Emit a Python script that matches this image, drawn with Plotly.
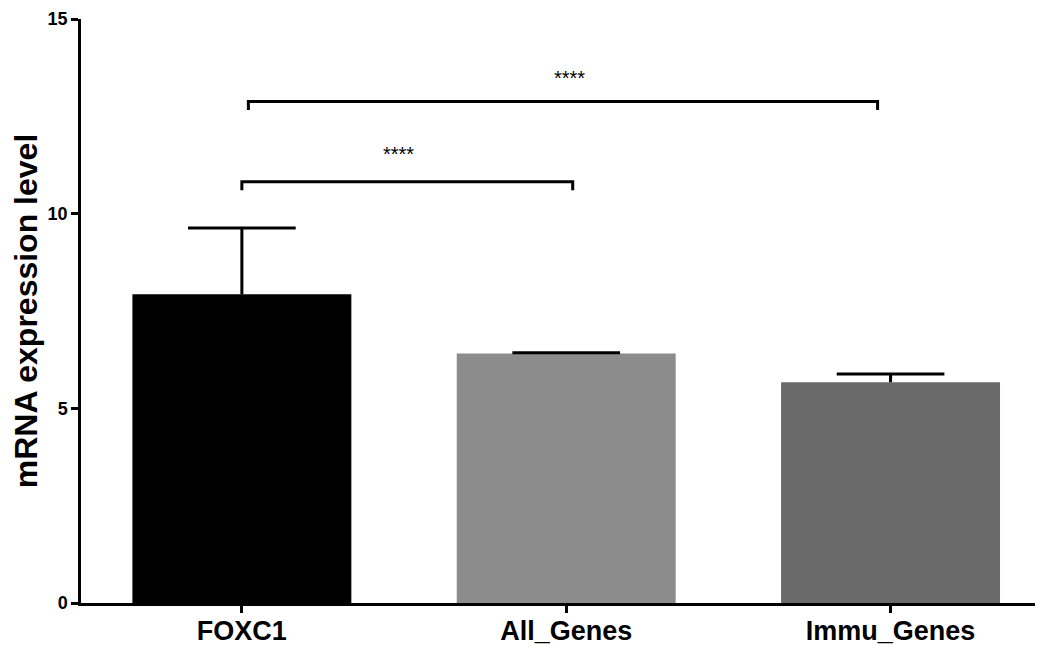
import plotly.graph_objects as go

categories = ["FOXC1", "All_Genes", "Immu_Genes"]
means = [7.93, 6.41, 5.67]
sem = [1.70, 0.02, 0.21]
bar_colors = ["#000000", "#8c8c8c", "#6a6a6a"]

# significance comparisons: (from index, to index, bracket height, label)
cmp_from = [0, 0]
cmp_to = [1, 2]
cmp_height = [10.82, 12.88]
cmp_label = ["****", "****"]
label_x = [0.482, 1.011]
label_y = [11.61, 13.56]

y_ticks = [0, 5, 10, 15]

x_pos = list(range(len(categories)))
cap_half = 0.166

fig = go.Figure()
fig.add_trace(go.Bar(
    x=x_pos, y=means, width=0.675,
    marker=dict(color=bar_colors, line=dict(width=0)),
    showlegend=False,
))

# upward-only error bars (stem + cap), built from means and sem
ex, ey = [], []
for xp, m, s in zip(x_pos, means, sem):
    ex += [xp, xp, None, xp - cap_half, xp + cap_half, None]
    ey += [m, m + s, None, m + s, m + s, None]
fig.add_trace(go.Scatter(x=ex, y=ey, mode="lines",
                         line=dict(color="black", width=3),
                         showlegend=False, hoverinfo="skip"))

drop = 0.22
for a, b, h, lab, lx, ly in zip(cmp_from, cmp_to, cmp_height, cmp_label, label_x, label_y):
    xa = x_pos[a] + (0.0 if h < 12 else 0.02)
    xb = x_pos[b] + (0.02 if h < 12 else -0.04)
    fig.add_trace(go.Scatter(
        x=[xa, xa, xb, xb], y=[h - drop, h, h, h - drop],
        mode="lines", line=dict(color="black", width=3),
        showlegend=False, hoverinfo="skip",
    ))
    fig.add_annotation(x=lx, y=ly, text=lab, showarrow=False,
                       font=dict(size=20, color="black", family="Liberation Sans"),
                       yanchor="middle", yshift=-3)

fig.update_layout(
    width=1043, height=645,
    margin=dict(l=73, r=8, t=11, b=50),
    plot_bgcolor="white", paper_bgcolor="white",
    font=dict(family="Liberation Sans", color="black"),
    xaxis=dict(range=[-0.496, 2.47], tickvals=x_pos, ticktext=[f"<b>{c}</b>" for c in categories],
               showline=True, linecolor="black", linewidth=2.5, automargin=False,
               ticks="outside", ticklen=7, tickwidth=2.5, tickcolor="black",
               ticklabelstandoff=-5,
               tickfont=dict(size=27, family="Liberation Sans"),
               showgrid=False, zeroline=False),
    yaxis=dict(range=[0, 15], tickvals=y_ticks, ticktext=[f"<b>{t}</b>" for t in y_ticks],
               showline=True, linecolor="black", linewidth=2.5, automargin=False,
               ticks="outside", ticklen=7, tickwidth=2.5, tickcolor="black",
               tickfont=dict(size=18, family="Liberation Sans"),
               showgrid=False, zeroline=False,
               title=dict(text="<b>mRNA expression level</b>", standoff=6,
                          font=dict(size=32, family="Liberation Sans"))),
)

fig.write_html("out.html")
